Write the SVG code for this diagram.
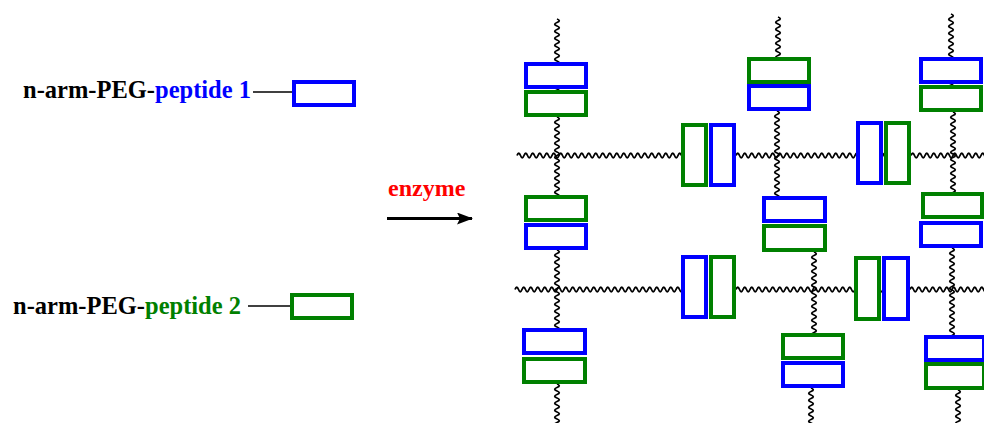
<svg xmlns="http://www.w3.org/2000/svg" xmlns:xlink="http://www.w3.org/1999/xlink" width="984" height="423" viewBox="0 0 984 423">
  <style>
    .lbl { font-family: "Liberation Serif", "Times New Roman", serif; font-weight: bold; font-size: 24.5px; }
    .pep1 { fill: none; stroke: #0000ff; stroke-width: 4; }
    .pep2 { fill: none; stroke: #008000; stroke-width: 4; }
    .b { fill: #ffffff; stroke: #0000ff; stroke-width: 4; }
    .g { fill: #ffffff; stroke: #008000; stroke-width: 4; }
    .peg { fill: none; stroke: #000000; stroke-width: 1.8; }
    .tie { stroke: #000000; stroke-width: 1.5; }
  </style>
  <defs>
    <!-- PEG chain drawn as a wave; ends tuck under the white peptide boxes -->
    <path id="wh" d="M0 0 q1.75 -4.5 3.5 0 t3.5 0 t3.5 0 t3.5 0 t3.5 0 t3.5 0 t3.5 0 t3.5 0 t3.5 0 t3.5 0 t3.5 0 t3.5 0 t3.5 0 t3.5 0 t3.5 0 t3.5 0 t3.5 0 t3.5 0 t3.5 0 t3.5 0 t3.5 0 t3.5 0 t3.5 0 t3.5 0 t3.5 0 t3.5 0 t3.5 0 t3.5 0 t3.5 0 t3.5 0 t3.5 0 t3.5 0 t3.5 0 t3.5 0 t3.5 0 t3.5 0 t3.5 0 t3.5 0 t3.5 0 t3.5 0 t3.5 0 t3.5 0 t3.5 0 t3.5 0 t3.5 0 t3.5 0 t3.5 0 t3.5 0"/>
    <path id="wv" d="M0 0 q4.5 1.75 0 3.5 t0 3.5 t0 3.5 t0 3.5 t0 3.5 t0 3.5 t0 3.5 t0 3.5 t0 3.5 t0 3.5 t0 3.5 t0 3.5 t0 3.5 t0 3.5 t0 3.5 t0 3.5 t0 3.5 t0 3.5 t0 3.5 t0 3.5 t0 3.5 t0 3.5 t0 3.5 t0 3.5 t0 3.5 t0 3.5"/>
    <marker id="arrow" viewBox="0 0 16 12" refX="15" refY="6" markerWidth="16" markerHeight="12" markerUnits="userSpaceOnUse" orient="auto">
      <path d="M0 0 L16 6 L0 12 L3 6 Z" fill="#000000"/>
    </marker>
  </defs>

  <!-- legend -->
  <g id="legend-peptide1">
    <text class="lbl" x="23" y="98" fill="#000000">n-arm-PEG-<tspan fill="#0000ff">peptide 1</tspan></text>
    <line class="tie" x1="253" y1="92" x2="292" y2="92"/>
    <rect class="pep1" x="294" y="82" width="60" height="23"/>
  </g>
  <g id="legend-peptide2">
    <text class="lbl" x="13" y="313.5" fill="#000000">n-arm-PEG-<tspan fill="#008000">peptide 2</tspan></text>
    <line class="tie" x1="248" y1="306" x2="290" y2="306"/>
    <rect class="pep2" x="292" y="295" width="60" height="23"/>
  </g>

  <!-- reaction arrow -->
  <g id="reaction">
    <text class="lbl" x="388" y="196" fill="#ff0000" style="font-size:24px">enzyme</text>
    <line x1="387" y1="218.5" x2="472" y2="218.5" stroke="#000000" stroke-width="3" marker-end="url(#arrow)"/>
  </g>

  <!-- PEG chains of the network -->
  <g id="connectors" class="peg">
    <use href="#wh" x="517" y="155.5"/>
    <use href="#wh" x="736" y="155.5"/>
    <use href="#wh" x="911" y="155.5"/>
    <use href="#wh" x="515" y="289.5"/>
    <use href="#wh" x="736" y="289.5"/>
    <use href="#wh" x="910" y="289.5"/>

    <use href="#wv" x="557" y="19"/>
    <use href="#wv" x="557" y="117"/>
    <use href="#wv" x="557" y="250"/>
    <use href="#wv" x="557" y="384"/>

    <use href="#wv" x="778" y="17"/>
    <use href="#wv" x="777" y="111"/>
    <use href="#wv" x="814" y="252"/>
    <use href="#wv" x="811" y="388"/>

    <use href="#wv" x="951" y="14"/>
    <use href="#wv" x="953" y="112"/>
    <use href="#wv" x="952" y="248"/>
    <use href="#wv" x="958" y="390"/>
  </g>

  <!-- peptide pairs (blue = peptide 1, green = peptide 2) -->
  <g id="node-c1-top"><rect class="b" x="526" y="64" width="60" height="23"/><rect class="g" x="526" y="92" width="60" height="23"/></g>
  <g id="node-c1-mid"><rect class="g" x="526" y="197" width="60" height="23"/><rect class="b" x="526" y="225" width="60" height="23"/></g>
  <g id="node-c1-bot"><rect class="b" x="524" y="330" width="61" height="23"/><rect class="g" x="524" y="359" width="61" height="23"/></g>

  <g id="node-c2-top"><rect class="g" x="749" y="59" width="60" height="23"/><rect class="b" x="749" y="86" width="60" height="23"/></g>
  <g id="node-c2-mid"><rect class="b" x="764" y="198" width="61" height="23"/><rect class="g" x="764" y="226" width="61" height="24"/></g>
  <g id="node-c2-bot"><rect class="g" x="783" y="335" width="60" height="23"/><rect class="b" x="783" y="363" width="60" height="23"/></g>

  <g id="node-c3-top"><rect class="b" x="921" y="59" width="60" height="23"/><rect class="g" x="921" y="87" width="60" height="23"/></g>
  <g id="node-c3-mid"><rect class="g" x="923" y="194" width="59" height="23"/><rect class="b" x="921" y="223" width="60" height="23"/></g>
  <g id="node-c3-bot"><rect class="b" x="926" y="337" width="58" height="23"/><rect class="g" x="926" y="364" width="58" height="24"/></g>

  <g id="node-r1-a"><rect class="g" x="683" y="125" width="23" height="60"/><rect class="b" x="711" y="125" width="23" height="60"/></g>
  <g id="node-r1-b"><rect class="b" x="858" y="123" width="23" height="60"/><rect class="g" x="886" y="123" width="23" height="60"/></g>
  <g id="node-r2-a"><rect class="b" x="683" y="257" width="23" height="60"/><rect class="g" x="711" y="257" width="23" height="60"/></g>
  <g id="node-r2-b"><rect class="g" x="856" y="258" width="23" height="61"/><rect class="b" x="884" y="258" width="24" height="61"/></g>
</svg>
